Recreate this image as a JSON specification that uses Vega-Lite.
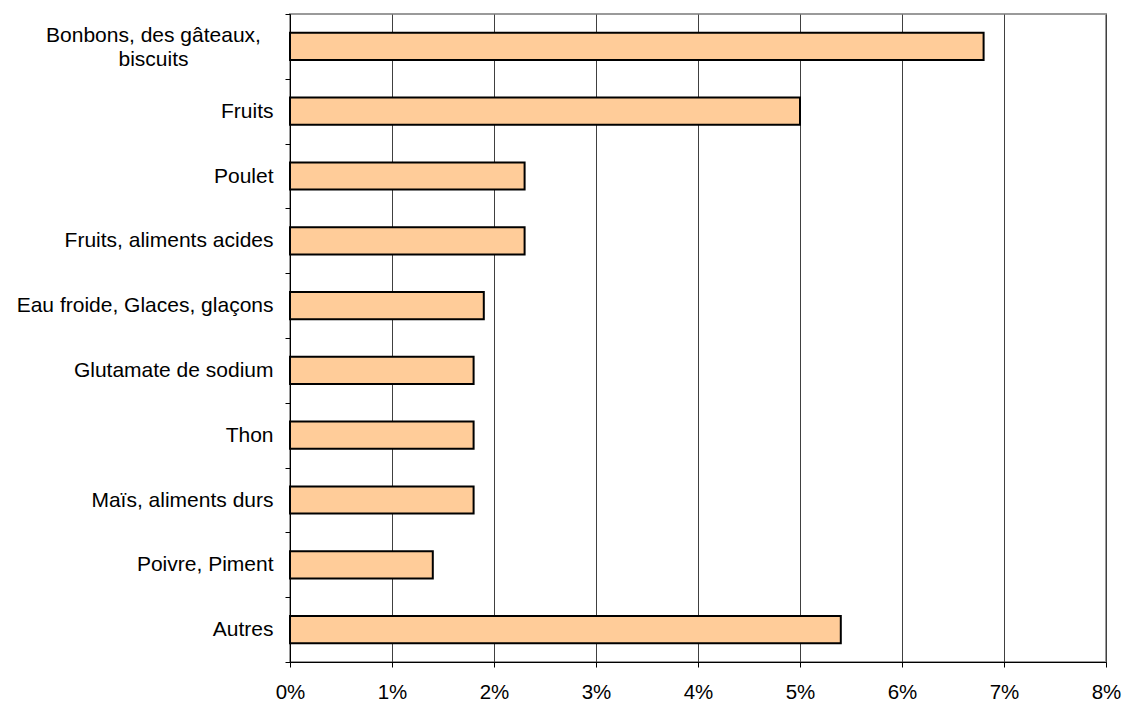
{
  "$schema": "https://vega.github.io/schema/vega-lite/v6.json",
  "width": 816,
  "height": 648,
  "autosize": "none",
  "padding": {"left": 290, "top": 14, "right": 17, "bottom": 40},
  "background": "white",
  "config": {
    "view": {"stroke": "#9a9a9a", "strokeWidth": 2},
    "font": "Liberation Sans"
  },
  "data": {
    "values": [
      {"cat": "Bonbons, des gâteaux, biscuits", "val": 0.068},
      {"cat": "Fruits", "val": 0.050},
      {"cat": "Poulet", "val": 0.023},
      {"cat": "Fruits, aliments acides", "val": 0.023},
      {"cat": "Eau froide, Glaces, glaçons", "val": 0.019},
      {"cat": "Glutamate de sodium", "val": 0.018},
      {"cat": "Thon", "val": 0.018},
      {"cat": "Maïs, aliments durs", "val": 0.018},
      {"cat": "Poivre, Piment", "val": 0.014},
      {"cat": "Autres", "val": 0.054}
    ]
  },
  "mark": {"type": "bar", "fill": "#FFCC99", "stroke": "black", "strokeWidth": 2, "height": {"band": 0.42}},
  "encoding": {
    "y": {
      "field": "cat",
      "type": "nominal",
      "sort": null,
      "title": null,
      "scale": {"paddingInner": 0, "paddingOuter": 0},
      "axis": {
        "tickBand": "extent",
        "ticks": true,
        "tickSize": 5,
        "tickColor": "black",
        "domainColor": "black",
        "domainWidth": 1,
        "labelFontSize": 21,
        "labelColor": "black",
        "labelLimit": 400,
        "labelLineHeight": 24,
        "labelExpr": "datum.value == 'Bonbons, des gâteaux, biscuits' ? ['Bonbons, des gâteaux,', 'biscuits'] : datum.value",
        "labelAlign": {"condition": {"test": "datum.value == 'Bonbons, des gâteaux, biscuits'", "value": "center"}, "value": "right"},
        "labelPadding": {"condition": {"test": "datum.value == 'Bonbons, des gâteaux, biscuits'", "value": 132}, "value": 12},
        "labelOffset": {"condition": {"test": "datum.value == 'Bonbons, des gâteaux, biscuits'", "value": -11}, "value": 0},
        "grid": false
      }
    },
    "x": {
      "field": "val",
      "type": "quantitative",
      "title": null,
      "scale": {"domain": [0, 0.08], "nice": false},
      "axis": {
        "values": [0, 0.01, 0.02, 0.03, 0.04, 0.05, 0.06, 0.07, 0.08],
        "format": ".0%",
        "grid": true,
        "gridColor": "#404040",
        "gridWidth": 1,
        "tickSize": 5,
        "tickColor": "black",
        "domainColor": "black",
        "domainWidth": 1,
        "labelFontSize": 20.5,
        "labelColor": "black",
        "labelPadding": 15,
        "labelFlush": false
      }
    }
  }
}
